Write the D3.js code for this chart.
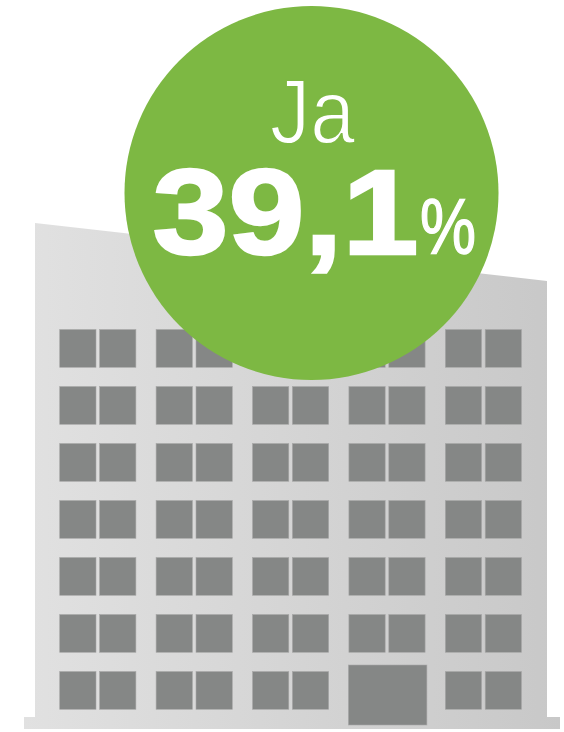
<!DOCTYPE html>
<html>
<head>
<meta charset="utf-8">
<script src="https://cdn.jsdelivr.net/npm/d3@7"></script>
<style>
html, body { margin: 0; padding: 0; background: #fff; overflow: hidden; }
svg { display: block; }
text { font-family: "Liberation Sans", Arial, sans-serif; fill: #fff; }
</style>
</head>
<body>
<div id="chart"></div>
<script>
var answer = ["Ja"];
var share = ["39,1"];
var unit = ["%"];
var floors = [1, 2, 3, 4, 5, 6, 7];
var bays = [1, 2, 3, 4, 5];
var panes = [0, 1];
var door = [{floor: 7, bay: 4}];

var width = 564, height = 732;
var green = "#7db843";

var svg = d3.select("#chart").append("svg")
    .attr("width", width)
    .attr("height", height);

var grad = svg.append("defs").append("linearGradient")
    .attr("id", "wall")
    .attr("x1", "0%").attr("x2", "100%")
    .attr("y1", "0%").attr("y2", "0%");
grad.append("stop").attr("offset", "0%").attr("stop-color", "#e1e1e1");
grad.append("stop").attr("offset", "100%").attr("stop-color", "#c8c8c8");

// building outline with the sloped roof
var outline = d3.line();
svg.append("path")
    .attr("d", outline([[35, 223], [547, 281], [547, 717], [560, 717], [560, 729], [24, 729], [24, 717], [35, 717]]) + "Z")
    .attr("fill", "url(#wall)");

var x = d3.scalePoint().domain(bays).range([59.7, 445.3]);
var y = d3.scalePoint().domain(floors).range([329.5, 671.5]);
var paneW = 36.3, paneH = 37.8, paneGap = 3.6;

floors.forEach(function (f) {
    bays.forEach(function (b) {
        if (door.some(function (d) { return d.floor === f && d.bay === b; })) return;
        svg.selectAll("rect.w" + f + "-" + b)
            .data(panes)
            .enter()
            .append("rect")
                .attr("x", function (p) { return x(b) + p * (paneW + paneGap); })
                .attr("y", y(f))
                .attr("width", paneW)
                .attr("height", paneH)
                .attr("fill", "#858786")
                .attr("stroke", "#a8a8a8")
                .attr("stroke-width", 0.6);
    });
});

svg.selectAll("rect.door")
    .data(door)
    .enter()
    .append("rect")
        .attr("class", "door")
        .attr("x", function (d) { return x(d.bay) - 0.5; })
        .attr("y", 665)
        .attr("width", 78.5)
        .attr("height", 60)
        .attr("fill", "#858786")
        .attr("stroke", "#a8a8a8")
        .attr("stroke-width", 0.6);

// green badge
svg.append("circle")
    .attr("cx", 311.5)
    .attr("cy", 193)
    .attr("r", 187)
    .attr("fill", green);

// thinned with a green stroke, the original face is lighter than Liberation regular
svg.append("text")
    .data(answer)
    .attr("x", 270)
    .attr("y", 142.5)
    .attr("font-size", 91)
    .attr("textLength", 85)
    .attr("lengthAdjust", "spacingAndGlyphs")
    .attr("stroke", green)
    .attr("stroke-width", 1.8)
    .text(function (d) { return d; });

// thickened with a white stroke, the original face is heavier than Liberation bold
svg.append("text")
    .data(share)
    .attr("x", 152.5)
    .attr("y", 254)
    .attr("font-size", 121)
    .attr("font-weight", "bold")
    .attr("textLength", 266)
    .attr("lengthAdjust", "spacingAndGlyphs")
    .attr("stroke", "#fff")
    .attr("stroke-width", 2.4)
    .text(function (d) { return d; });

svg.append("text")
    .data(unit)
    .attr("x", 420)
    .attr("y", 254)
    .attr("font-size", 78)
    .attr("textLength", 56)
    .attr("lengthAdjust", "spacingAndGlyphs")
    .attr("stroke", "#fff")
    .attr("stroke-width", 1.4)
    .text(function (d) { return d; });
</script>
</body>
</html>
